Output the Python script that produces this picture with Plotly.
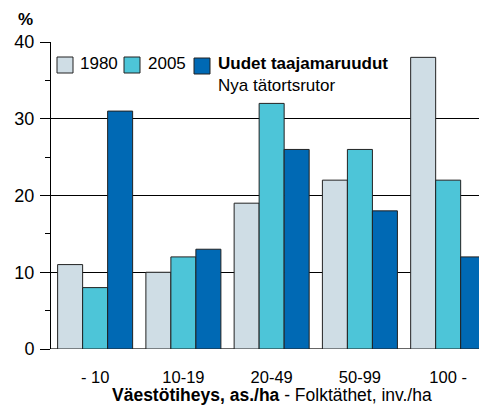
import plotly.graph_objects as go

categories = ["- 10", "10-19", "20-49", "50-99", "100 -"]
v1980 = [11, 10, 19, 22, 38]
v2005 = [8, 12, 32, 26, 22]
v_new = [31, 13, 26, 18, 12]
names = ["1980", "2005", "<b>Uudet taajamaruudut</b><br>Nya tätortsrutor"]
colors = ["#CFDDE5", "#4DC5D8", "#0069B4"]
y_ticks = [0, 10, 20, 30, 40]

# page has an 8px body margin; figure sized to fill the rest of the window
OFF = 8
W, H = 487 - OFF, 405 - OFF
PL, PR, PT, PB = 51, 487, 42, 349  # plot area in page pixels
L, T = PL - OFF, PT - OFF
R, B = 0, (OFF + H) - PB
PW, PH = PR - PL, PB - PT


def px(x):
    return (x - PL) / PW


def py(y):
    return (PB - y) / PH


fig = go.Figure()
for vals, nm, c in zip([v1980, v2005, v_new], names, colors):
    fig.add_trace(go.Bar(x=categories, y=vals, name=nm, marker_color=c,
                         marker_line_color="#222222", marker_line_width=1))

font = "Liberation Sans, Arial, sans-serif"
fig.update_layout(
    width=W, height=H,
    margin=dict(l=L, r=R, t=T, b=B, autoexpand=False),
    plot_bgcolor="white", paper_bgcolor="white",
    barmode="group", bargap=0.15, bargroupgap=0,
    font=dict(family=font, size=17, color="black"),
    showlegend=False,
    xaxis=dict(range=[-0.5, 4.44], showline=False, ticks="outside", ticklen=13,
               tickcolor="rgba(0,0,0,0)", showgrid=False, automargin=False,
               tickfont=dict(size=16.5)),
    yaxis=dict(range=[0, 40], tickvals=y_ticks, showgrid=True, automargin=False,
               gridcolor="black", gridwidth=1, showline=True, linecolor="black",
               linewidth=1, ticks="outside", ticklen=10, tickcolor="black",
               tickfont=dict(size=18), zeroline=False, ticklabelstandoff=2,
               minor=dict(tickvals=[5, 15, 25, 35], ticks="outside", ticklen=5,
                          tickcolor="black", showgrid=False)),
)
fig.add_shape(type="line", xref="paper", yref="y", x0=0, x1=1, y0=0, y1=0,
              line=dict(color="#666666", width=2), layer="below")

# axis title
fig.add_annotation(text="<b>Väestötiheys, as./ha</b> - Folktäthet, inv./ha",
                   xref="paper", yref="paper", x=px(272), y=py(395),
                   xanchor="center", yanchor="middle", showarrow=False,
                   font=dict(size=17.5))
# unit label
fig.add_annotation(text="<b>%</b>", xref="paper", yref="paper", x=px(25.5), y=py(8),
                   xanchor="center", yanchor="top", showarrow=False,
                   font=dict(size=17))

# manual legend
legend_items = [
    (57, 65, 78),
    (124, 65, 146),
    (194, 66, 218),
]
for (sx, sy, tx), nm, c in zip(legend_items, names, colors):
    fig.add_shape(type="rect", xref="paper", yref="paper",
                  x0=px(sx), x1=px(sx + 16), y0=py(sy - 8), y1=py(sy + 8),
                  fillcolor=c, line=dict(color="#222222", width=1))
for (sx, sy, tx), nm in zip(legend_items[:2], names[:2]):
    fig.add_annotation(text=nm, xref="paper", yref="paper", x=px(tx), y=py(sy - 2),
                       xanchor="left", yanchor="middle", showarrow=False,
                       font=dict(size=17))
fig.add_annotation(text=names[2], xref="paper", yref="paper", x=px(216), y=py(52),
                   xanchor="left", yanchor="top", showarrow=False, align="left",
                   font=dict(size=17))
fig.write_html("out.html")
